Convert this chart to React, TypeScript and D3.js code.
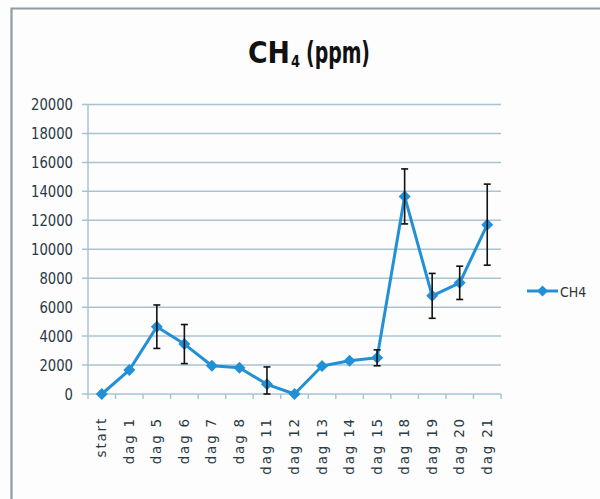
import React from "react";
import * as d3 from "d3";

const categories = ["start", "dag 1", "dag 5", "dag 6", "dag 7", "dag 8", "dag 11", "dag 12", "dag 13", "dag 14", "dag 15", "dag 18", "dag 19", "dag 20", "dag 21"];
const ch4Values = [0, 1650, 4650, 3450, 1950, 1810, 670, 0, 1930, 2300, 2500, 13650, 6780, 7680, 11700];
const ch4Errors = [0, 0, 1500, 1350, 0, 0, 1200, 0, 0, 0, 550, 1900, 1550, 1150, 2800];
const yTicks = [0, 2000, 4000, 6000, 8000, 10000, 12000, 14000, 16000, 18000, 20000];
const seriesName = "CH4";

const W = 600;
const H = 499;
const left = 88;
const right = 501;
const top = 104.5;
const bottom = 394;
const condensed = "'DejaVu Sans Condensed', 'DejaVu Sans', sans-serif";
const regular = "'DejaVu Sans', sans-serif";
const blue = "#2290d6";
const grid = "#a9c3d3";

export default function App() {
  const x = d3.scaleBand<string>().domain(categories).range([left, right]).padding(0);
  const y = d3.scaleLinear().domain([0, 20000]).range([bottom, top]);
  const cx = (c: string) => (x(c) as number) + x.bandwidth() / 2;
  const line = d3
    .line<number>()
    .x((_, i) => cx(categories[i]))
    .y((d) => y(d));
  const diamond = (px: number, py: number, r: number) =>
    `M${px},${py - r}L${px + r},${py}L${px},${py + r}L${px - r},${py}Z`;
  const tickXs = [...categories.map((c) => x(c) as number), right];

  return (
    <svg width={W} height={H} style={{ position: "absolute", left: 0, top: 0 }}>
      <rect x={0} y={0} width={W} height={H} fill="#fdfdfd" />
      <path d={`M11.5,${H}L11.5,8.5L${W},8.5`} fill="none" stroke="#8d9ca2" strokeWidth={2.2} />
      <g fontFamily={condensed} fontWeight="bold" fill="#111">
        <text x={248} y={63} textLength={42} lengthAdjust="spacingAndGlyphs" fontSize={31}>
          CH
        </text>
        <text x={291} y={67} textLength={9} lengthAdjust="spacingAndGlyphs" fontSize={16}>
          4
        </text>
        <text x={306} y={63} textLength={64} lengthAdjust="spacingAndGlyphs" fontSize={31}>
          (ppm)
        </text>
      </g>
      {yTicks.map((t) => {
        const s = String(t);
        return (
          <g key={t}>
            <line x1={82} x2={right} y1={y(t)} y2={y(t)} stroke={grid} strokeWidth={1.5} />
            <text
              x={73 - s.length * 8.4}
              y={y(t) + 5.5}
              textLength={s.length * 8.4}
              lengthAdjust="spacingAndGlyphs"
              fontFamily={condensed}
              fontSize={15.5}
              fill="#2a3a44"
            >
              {s}
            </text>
          </g>
        );
      })}
      <line x1={left} x2={left} y1={top} y2={bottom} stroke={grid} strokeWidth={1.5} />
      {tickXs.map((tx, i) => (
        <line key={i} x1={tx} x2={tx} y1={bottom} y2={bottom + 5} stroke={grid} strokeWidth={1.5} />
      ))}
      {categories.map((c) => (
        <text
          key={c}
          transform={`translate(${cx(c) + 4.5},417) rotate(-90)`}
          textAnchor="end"
          fontFamily={regular}
          fontSize={13.5}
          letterSpacing={1.8}
          fill="#2a3a44"
        >
          {c}
        </text>
      ))}
      <path d={line(ch4Values) || ""} fill="none" stroke={blue} strokeWidth={3} strokeLinejoin="round" />
      {ch4Values.map((v, i) => (
        <path key={i} d={diamond(cx(categories[i]), y(v), 6)} fill={blue} />
      ))}
      {ch4Errors.map((e, i) => {
        if (!e) return null;
        const px = cx(categories[i]);
        const v = ch4Values[i];
        const y1 = y(v + e);
        const y2 = y(Math.max(0, v - e));
        return (
          <g key={i} stroke="#111" strokeWidth={1.6}>
            <line x1={px} x2={px} y1={y1} y2={y2} />
            <line x1={px - 3.5} x2={px + 3.5} y1={y1} y2={y1} />
            <line x1={px - 3.5} x2={px + 3.5} y1={y2} y2={y2} />
          </g>
        );
      })}
      <line x1={527} x2={558} y1={291} y2={291} stroke={blue} strokeWidth={3} />
      <path d={diamond(542.5, 291, 5.5)} fill={blue} />
      <text x={560} y={297} fontFamily={condensed} fontSize={14} fill="#333">
        {seriesName}
      </text>
    </svg>
  );
}
